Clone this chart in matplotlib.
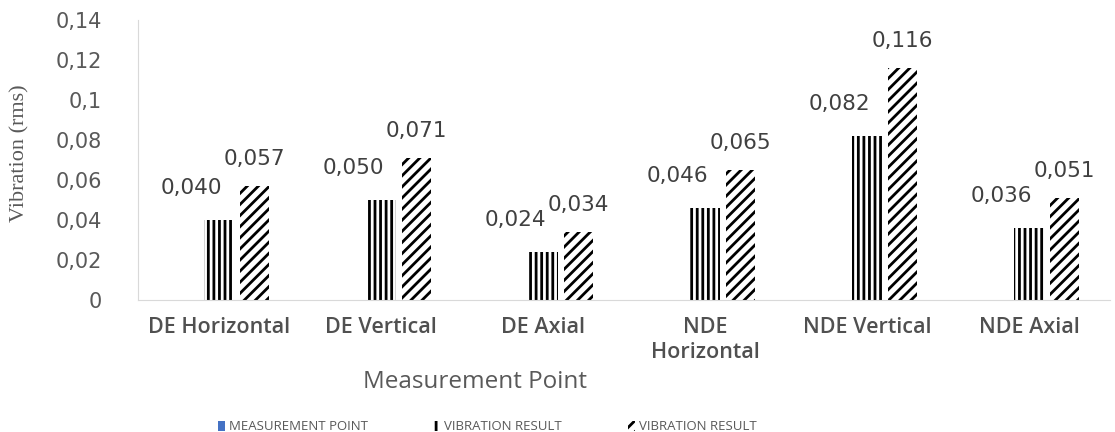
import matplotlib.pyplot as plt
import matplotlib.patches as mpatches
import numpy as np

plt.rcParams['hatch.linewidth'] = 2.0

# Datos de vibración por punto de medida
puntos = ['DE Horizontal', 'DE Vertical', 'DE Axial', 'NDE\nHorizontal', 'NDE Vertical', 'NDE Axial']
punto_medida = [0, 0, 0, 0, 0, 0]
vibracion_1 = [0.040, 0.050, 0.024, 0.046, 0.082, 0.036]
vibracion_2 = [0.057, 0.071, 0.034, 0.065, 0.116, 0.051]
etiquetas_1 = ['0,040', '0,050', '0,024', '0,046', '0,082', '0,036']
etiquetas_2 = ['0,057', '0,071', '0,034', '0,065', '0,116', '0,051']
yticks = [0, 0.02, 0.04, 0.06, 0.08, 0.1, 0.12, 0.14]
yticklabels = ['0', '0,02', '0,04', '0,06', '0,08', '0,1', '0,12', '0,14']

gris = '#595959'
azul = '#4472C4'

fig = plt.figure(figsize=(11.15, 4.32), dpi=100)
ax = fig.add_axes([0.1238, 0.3056, 0.8717, 0.648])

x = np.arange(len(puntos))
sep = 0.22
ancho = 0.18

ax.bar(x - sep, punto_medida, ancho, color=azul, label='MEASUREMENT POINT')
ax.bar(x, vibracion_1, ancho, color='white', edgecolor='black',
       linewidth=0, hatch='|||', label='VIBRATION RESULT')
ax.bar(x + sep, vibracion_2, ancho, color='white', edgecolor='black',
       linewidth=0, hatch='///', label='VIBRATION RESULT')

# etiquetas de valor
for xi, v, t in zip(x, vibracion_1, etiquetas_1):
    ax.annotate(t, (xi, v), xytext=(-20, 16), textcoords='offset points',
                ha='center', va='bottom', fontsize=15.5, color='#404040')
for xi, v, t in zip(x + sep, vibracion_2, etiquetas_2):
    ax.annotate(t, (xi, v), xytext=(0, 12), textcoords='offset points',
                ha='center', va='bottom', fontsize=15.5, color='#404040')

ax.set_xlim(-0.5, len(puntos) - 0.5)
ax.set_ylim(0, 0.14)
ax.set_yticks(yticks)
ax.set_yticklabels(yticklabels, fontsize=15, color=gris)
ax.set_xticks(x)
ax.set_xticklabels(puntos, fontsize=15.5, color='#505050', family='Open Sans',
                   fontweight='semibold', linespacing=1.3)
ax.tick_params(axis='both', length=0)
ax.tick_params(axis='x', pad=12)
ax.tick_params(axis='y', pad=26)

for s in ['top', 'right']:
    ax.spines[s].set_visible(False)
ax.spines['left'].set_color('#d9d9d9')
ax.spines['bottom'].set_color('#d9d9d9')

ax.set_ylabel('Vibration (rms)', family='Liberation Serif', fontsize=16,
              color=gris)
ax.yaxis.set_label_coords(-0.112, 0.525)
ax.set_xlabel('Measurement Point', family='Open Sans', fontsize=17.5,
              color=gris)
ax.xaxis.set_label_coords(0.347, -0.25)

h1 = mpatches.Patch(facecolor=azul, label='MEASUREMENT POINT')
h2 = mpatches.Patch(facecolor='white', edgecolor='black', linewidth=0,
                    hatch='|||', label='VIBRATION RESULT')
h3 = mpatches.Patch(facecolor='white', edgecolor='black', linewidth=0,
                    hatch='///', label='VIBRATION RESULT')
fig.legend(handles=[h1, h2, h3], loc='center', bbox_to_anchor=(0.437, 0.012),
           ncol=3, frameon=False, handlelength=0.5,
           handleheight=0.8, handletextpad=0.3, columnspacing=5.0,
           labelcolor=gris, prop={'family': 'Open Sans', 'size': 9.5})

fig.savefig('out.png', dpi=100)
